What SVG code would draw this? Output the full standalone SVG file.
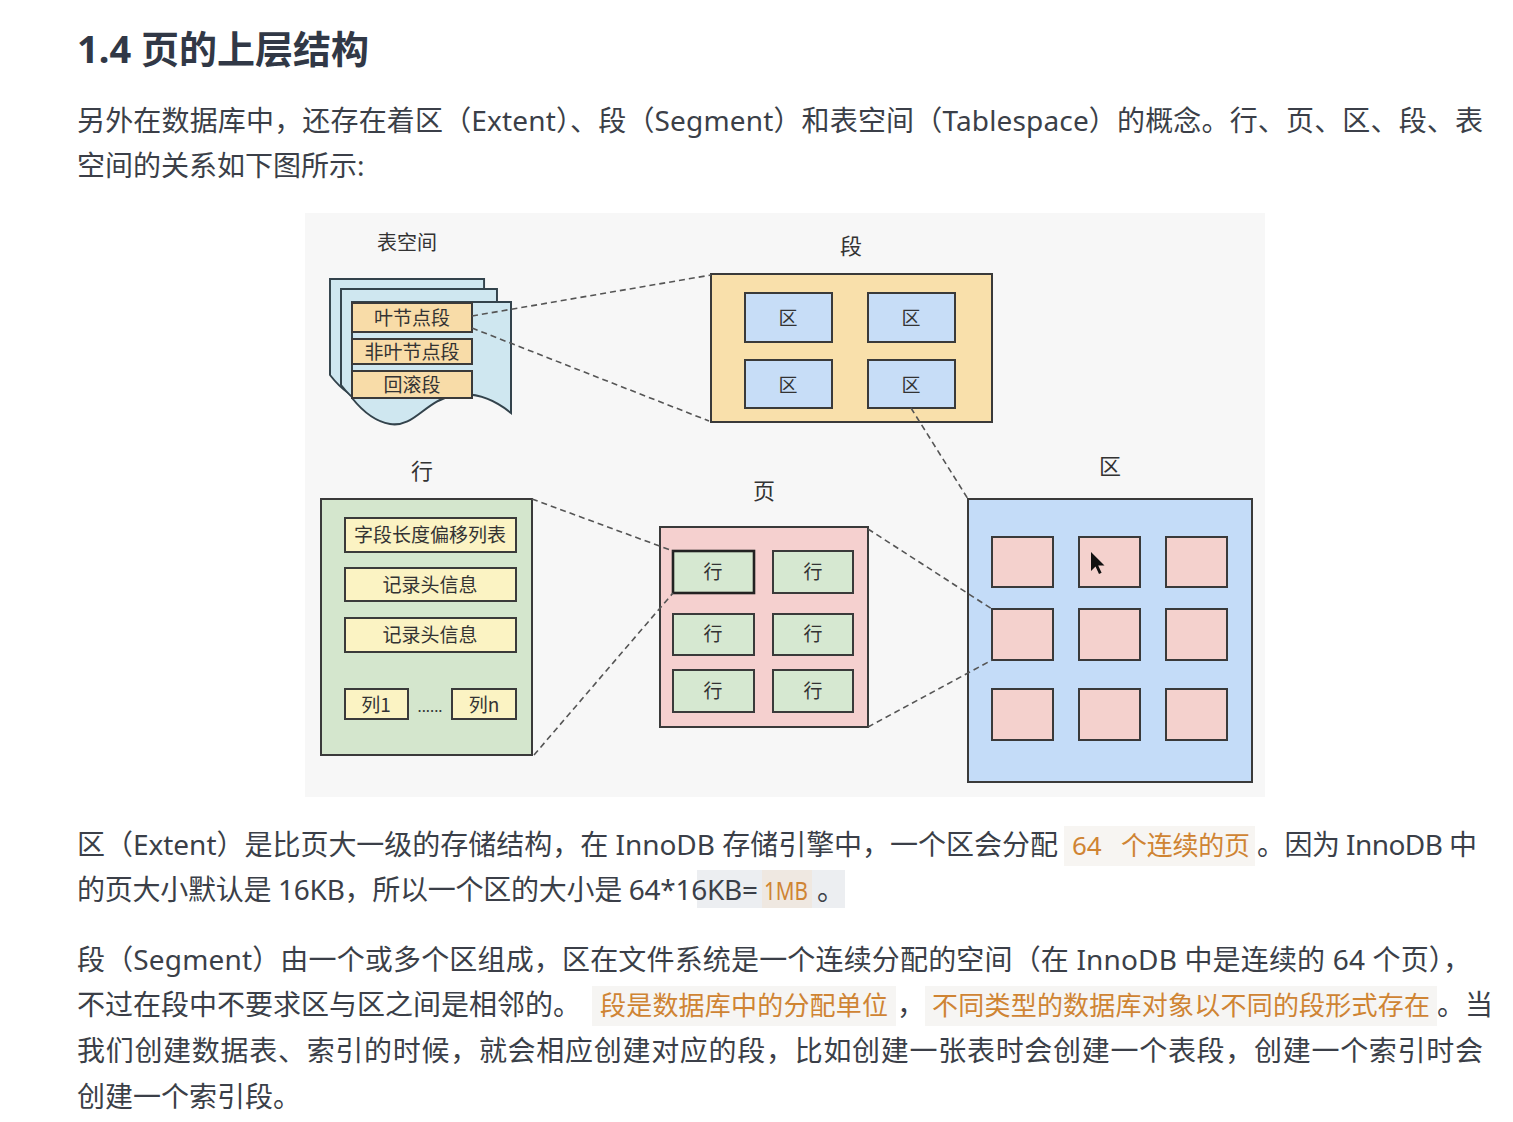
<svg xmlns="http://www.w3.org/2000/svg" width="1513" height="1122" viewBox="0 0 1513 1122">
<style>
.t{font-family:"Noto Sans","Noto Sans CJK SC",sans-serif;fill:#3b3f48;font-size:28px}
.h{font-family:"Noto Sans","Noto Sans CJK SC",sans-serif;fill:#313846;font-size:38px;font-weight:700}
.hl{font-size:26px;fill:#cf8433}
.d{font-family:"Noto Sans CJK SC","Noto Sans",sans-serif;fill:#333;text-anchor:middle;font-size:19px}
.lbl{font-size:22px}
.box{stroke:#3a3a3a;stroke-width:2}
.conn line{stroke:#555;stroke-width:1.6;stroke-dasharray:6 4;fill:none}
</style>
<defs>
<path id="doc" d="M0,0 H159 V111 C143,98 123,90 103,93 C73,98 63,126 38,122 C20,119 8,106 0,96 Z"/>
</defs>
<rect width="1513" height="1122" fill="#ffffff"/>

<!-- Heading -->
<text class="h" x="77" y="63">1.4 页的上层结构</text>

<!-- Paragraph 1 -->
<text class="t" x="77" y="131" textLength="1406" lengthAdjust="spacing">另外在数据库中，还存在着区（Extent）、段（Segment）和表空间（Tablespace）的概念。行、页、区、段、表</text>
<text class="t" x="77" y="176">空间的关系如下图所示:</text>

<!-- Diagram -->
<rect x="305" y="213" width="960" height="584" fill="#f7f7f7"/>

<g id="tablespace">
  <text class="d" x="407" y="250" style="font-size:20px">表空间</text>
  <use href="#doc" transform="translate(330,279) scale(0.969,1)" fill="#cfe7f0" stroke="#33434c" stroke-width="2"/>
  <use href="#doc" transform="translate(341,289) scale(0.981,1)" fill="#cfe7f0" stroke="#33434c" stroke-width="2"/>
  <use href="#doc" transform="translate(352,302)" fill="#cfe7f0" stroke="#33434c" stroke-width="2"/>
  <rect class="box" x="352" y="303" width="120" height="29" fill="#f8dca8"/>
  <rect class="box" x="352" y="339" width="120" height="25" fill="#f8dca8"/>
  <rect class="box" x="352" y="371" width="120" height="27" fill="#f8dca8"/>
  <text class="d" x="412" y="325">叶节点段</text>
  <text class="d" x="412" y="359">非叶节点段</text>
  <text class="d" x="412" y="392">回滚段</text>
</g>

<g id="segment">
  <text class="d lbl" x="851" y="254">段</text>
  <rect class="box" x="711" y="274" width="281" height="148" fill="#f9e0ab"/>
  <rect class="box" x="745" y="293" width="87" height="49" fill="#c7ddf7"/>
  <rect class="box" x="868" y="293" width="87" height="49" fill="#c7ddf7"/>
  <rect class="box" x="745" y="360" width="87" height="48" fill="#c7ddf7"/>
  <rect class="box" x="868" y="360" width="87" height="48" fill="#c7ddf7"/>
  <text class="d" x="788" y="325">区</text>
  <text class="d" x="911" y="325">区</text>
  <text class="d" x="788" y="392">区</text>
  <text class="d" x="911" y="392">区</text>
</g>

<g id="row">
  <text class="d lbl" x="422" y="479">行</text>
  <rect class="box" x="321" y="499" width="211" height="256" fill="#d4e6cd"/>
  <rect class="box" x="345" y="518" width="171" height="34" fill="#fbf3c3"/>
  <rect class="box" x="345" y="568" width="171" height="33" fill="#fbf3c3"/>
  <rect class="box" x="345" y="618" width="171" height="34" fill="#fbf3c3"/>
  <rect class="box" x="345" y="689" width="63" height="30" fill="#fbf3c3"/>
  <rect class="box" x="452" y="689" width="64" height="30" fill="#fbf3c3"/>
  <text class="d" x="430" y="542">字段长度偏移列表</text>
  <text class="d" x="430" y="592">记录头信息</text>
  <text class="d" x="430" y="642">记录头信息</text>
  <text class="d" x="376" y="712">列1</text>
  <text class="d" x="430" y="712" style="font-size:15px">......</text>
  <text class="d" x="484" y="712">列n</text>
</g>

<g id="page">
  <text class="d lbl" x="764" y="499">页</text>
  <rect class="box" x="660" y="527" width="208" height="200" fill="#f5d0cf"/>
  <rect x="673" y="551" width="81" height="42" fill="#d6e8d1" stroke="#222" stroke-width="2.6"/>
  <rect class="box" x="773" y="551" width="80" height="42" fill="#d6e8d1"/>
  <rect class="box" x="673" y="614" width="81" height="41" fill="#d6e8d1"/>
  <rect class="box" x="773" y="614" width="80" height="41" fill="#d6e8d1"/>
  <rect class="box" x="673" y="670" width="81" height="42" fill="#d6e8d1"/>
  <rect class="box" x="773" y="670" width="80" height="42" fill="#d6e8d1"/>
  <text class="d" x="713" y="579">行</text>
  <text class="d" x="813" y="579">行</text>
  <text class="d" x="713" y="641">行</text>
  <text class="d" x="813" y="641">行</text>
  <text class="d" x="713" y="698">行</text>
  <text class="d" x="813" y="698">行</text>
</g>

<g id="extent">
  <text class="d lbl" x="1110" y="474">区</text>
  <rect class="box" x="968" y="499" width="284" height="283" fill="#c4dcf8"/>
  <rect class="box" x="992" y="537" width="61" height="50" fill="#f4d1cd"/>
  <rect class="box" x="1079" y="537" width="61" height="50" fill="#f4d1cd"/>
  <rect class="box" x="1166" y="537" width="61" height="50" fill="#f4d1cd"/>
  <rect class="box" x="992" y="609" width="61" height="51" fill="#f4d1cd"/>
  <rect class="box" x="1079" y="609" width="61" height="51" fill="#f4d1cd"/>
  <rect class="box" x="1166" y="609" width="61" height="51" fill="#f4d1cd"/>
  <rect class="box" x="992" y="689" width="61" height="51" fill="#f4d1cd"/>
  <rect class="box" x="1079" y="689" width="61" height="51" fill="#f4d1cd"/>
  <rect class="box" x="1166" y="689" width="61" height="51" fill="#f4d1cd"/>
  <path d="M1091,552 V571 L1095.5,566.5 L1099,574 L1101.6,572.8 L1098.2,565.6 L1104.5,565.6 Z" fill="#111"/>
</g>

<g class="conn">
  <line x1="472" y1="316" x2="711" y2="275"/>
  <line x1="472" y1="328" x2="709" y2="421"/>
  <line x1="911" y1="408" x2="968" y2="499"/>
  <line x1="532" y1="499" x2="673" y2="551"/>
  <line x1="534" y1="755" x2="673" y2="593"/>
  <line x1="868" y1="529" x2="992" y2="609"/>
  <line x1="868" y1="727" x2="992" y2="660"/>
</g>

<!-- Paragraph 2 -->
<rect x="1064" y="826" width="191" height="40" fill="#f7f5f2"/>
<rect x="697" y="870" width="148" height="38" fill="#eceef1"/>
<rect x="762" y="870" width="50" height="38" fill="#efe8e1"/>
<text class="t" x="77" y="855" textLength="981" lengthAdjust="spacing">区（Extent）是比页大一级的存储结构，在 InnoDB 存储引擎中，一个区会分配</text>
<text class="t hl" x="1072" y="855">64</text>
<text class="t hl" x="1121" y="855" textLength="129" lengthAdjust="spacing">个连续的页</text>
<text class="t" x="1257" y="855" textLength="220" lengthAdjust="spacing">。因为 InnoDB 中</text>
<text class="t" x="77" y="900" textLength="681" lengthAdjust="spacing">的页大小默认是 16KB，所以一个区的大小是 64*16KB=</text>
<text class="t hl" x="764" y="900" textLength="44" lengthAdjust="spacingAndGlyphs">1MB</text>
<text class="t" x="817" y="900">。</text>

<!-- Paragraph 3 -->
<rect x="592" y="986" width="304" height="40" fill="#f6f5f3"/>
<rect x="925" y="986" width="512" height="40" fill="#f6f5f3"/>
<text class="t" x="77" y="970" textLength="1394" lengthAdjust="spacing">段（Segment）由一个或多个区组成，区在文件系统是一个连续分配的空间（在 InnoDB 中是连续的 64 个页），</text>
<text class="t" x="77" y="1015">不过在段中不要求区与区之间是相邻的。</text>
<text class="t hl" x="600" y="1015" textLength="288" lengthAdjust="spacing">段是数据库中的分配单位</text>
<text class="t" x="897" y="1015">，</text>
<text class="t hl" x="932" y="1015" textLength="498" lengthAdjust="spacing">不同类型的数据库对象以不同的段形式存在</text>
<text class="t" x="1437" y="1015">。当</text>
<text class="t" x="77" y="1061" textLength="1406" lengthAdjust="spacing">我们创建数据表、索引的时候，就会相应创建对应的段，比如创建一张表时会创建一个表段，创建一个索引时会</text>
<text class="t" x="77" y="1107">创建一个索引段。</text>
</svg>
